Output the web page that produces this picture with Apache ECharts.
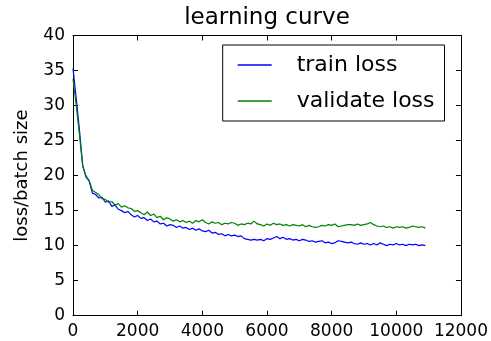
<!DOCTYPE html>
<html>
<head>
<meta charset="utf-8">
<script src="https://cdn.jsdelivr.net/npm/echarts@6/dist/echarts.min.js"></script>
<style>
html,body{margin:0;padding:0;background:#fff;}
#main{width:491px;height:341px;}
</style>
</head>
<body>
<div id="main"></div>
<script>
// iterations, one point every 100
var iters = [];
for (var i = 0; i < 110; i++) iters.push(i * 100);

var trainLoss = [
35.3,31.0,26.5,21.5,19.8,19.2,17.5,17.3,16.8,16.9,
16.2,16.4,15.6,15.8,15.2,15.0,14.7,14.9,14.4,14.1,
14.3,13.9,14.0,13.6,13.8,13.4,13.5,13.1,13.2,12.8,
13.0,12.9,12.6,12.8,12.5,12.6,12.3,12.5,12.2,12.4,
12.1,12.0,12.2,11.8,11.9,11.6,11.7,11.4,11.6,11.4,
11.5,11.3,11.4,11.0,10.9,10.8,10.9,10.8,10.9,10.7,
11.0,10.9,11.1,11.3,11.0,11.2,10.9,11.0,10.8,10.9,
10.7,10.9,10.8,10.6,10.7,10.5,10.6,10.7,10.4,10.5,
10.3,10.4,10.7,10.6,10.5,10.4,10.5,10.3,10.2,10.4,
10.2,10.3,10.1,10.3,10.1,10.4,10.2,10.0,10.2,10.1,
10.3,10.1,10.2,10.0,10.2,10.1,10.2,10.0,10.1,10.0
];
var valLoss = [
33.8,30.0,25.8,21.3,20.0,19.3,17.9,17.6,17.3,16.7,
16.6,16.2,16.3,15.8,16.0,15.5,15.7,15.4,15.3,14.9,
15.0,14.7,14.4,14.8,14.3,14.5,14.0,14.2,13.7,14.0,
13.8,13.5,13.7,13.4,13.6,13.3,13.5,13.2,13.6,13.4,
13.7,13.3,13.1,13.4,13.2,13.3,13.0,13.2,13.1,13.3,
13.2,12.9,13.1,13.0,13.2,13.1,13.5,13.1,13.0,12.8,
13.1,12.9,13.2,13.0,13.1,12.9,13.0,12.8,13.0,12.9,
12.8,13.0,12.7,12.9,12.7,12.6,12.7,12.9,12.8,13.0,
12.9,13.1,12.7,12.8,12.9,13.0,13.0,12.9,13.1,12.9,
13.0,13.1,13.3,13.0,12.8,12.7,12.8,12.6,12.7,12.5,
12.7,12.6,12.7,12.5,12.6,12.8,12.7,12.6,12.7,12.5
];

function pairs(ys){
	var out = [];
	for (var i = 0; i < ys.length; i++) out.push([iters[i], ys[i]]);
	return out;
}

var myChart = echarts.init(document.getElementById('main'));
var FONT = 'DejaVu Sans';
var black = '#000';

function xAx(pos, showLabel){
	return {
		type: 'value', position: pos, min: 0, max: 12000, interval: 2000,
		axisLine: {show: true, onZero: false, lineStyle: {color: black, width: 1}},
		axisTick: {show: true, inside: true, length: 5, lineStyle: {color: black}},
		axisLabel: {show: showLabel, color: '#000', fontFamily: FONT, fontSize: 17, margin: 7,
			formatter: function(v){ return String(v); }},
		splitLine: {show: false}
	};
}
function yAx(pos, showLabel){
	return {
		type: 'value', position: pos, min: 0, max: 40, interval: 5,
		axisLine: {show: true, onZero: false, lineStyle: {color: black, width: 1}},
		axisTick: {show: true, inside: true, length: 5, lineStyle: {color: black}},
		axisLabel: {show: showLabel, color: '#000', fontFamily: FONT, fontSize: 17, margin: 8},
		splitLine: {show: false}
	};
}

var yMain = yAx('left', true);
yMain.name = 'loss/batch size';
yMain.nameLocation = 'middle';
yMain.nameGap = 42;
yMain.nameTextStyle = {color: '#000', fontFamily: FONT, fontSize: 18};

var option = {
	animation: false,
	backgroundColor: '#fff',
	title: {
		text: 'learning curve',
		left: 267, top: 7, textAlign: 'center', padding: 0,
		textStyle: {color: '#000', fontFamily: FONT, fontSize: 23, fontWeight: 'normal'}
	},
	grid: {left: 73, right: 30, top: 35.5, bottom: 25.3, containLabel: false},
	legend: {
		orient: 'vertical', left: 222.7, top: 45,
		padding: [9, 10, 9, 15],
		icon: 'rect',
		itemWidth: 34, itemHeight: 1.5, itemGap: 14,
		borderColor: '#000', borderWidth: 1, backgroundColor: '#fff',
		textStyle: {color: '#000', fontFamily: FONT, fontSize: 22, lineHeight: 20, padding: [0, 0, 0, 20]},
		data: ['train loss', 'validate loss']
	},
	xAxis: [xAx('bottom', true), xAx('top', false)],
	yAxis: [yMain, yAx('right', false)],
	series: [
		{
			name: 'train loss', type: 'line', symbol: 'none',
			lineStyle: {color: '#0000ff', width: 1.2}, itemStyle: {color: '#0000ff'},
			data: pairs(trainLoss)
		},
		{
			name: 'validate loss', type: 'line', symbol: 'none',
			lineStyle: {color: '#008000', width: 1.2}, itemStyle: {color: '#008000'},
			data: pairs(valLoss)
		}
	]
};

myChart.setOption(option);
window.onresize = myChart.resize;
</script>
</body>
</html>
